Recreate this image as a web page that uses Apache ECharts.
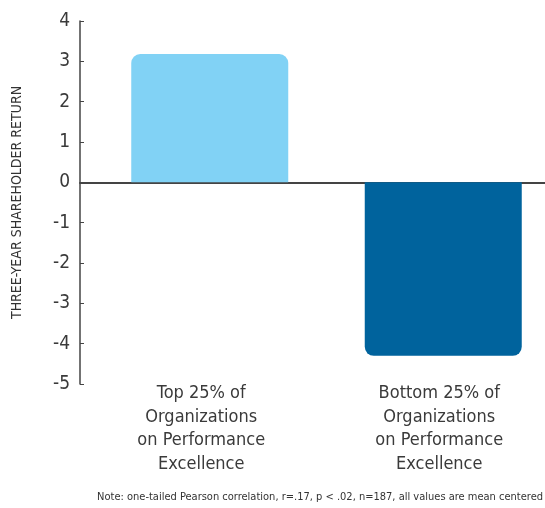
<!DOCTYPE html>
<html>
<head>
<meta charset="utf-8">
<script src="https://cdn.jsdelivr.net/npm/echarts@6/dist/echarts.min.js"></script>
<style>
html,body{margin:0;padding:0;background:#fff;overflow:hidden;}
#chart{width:560px;height:508px;}
</style>
</head>
<body>
<div id="chart"></div>
<script>
const categories = [
  "Top 25% of\nOrganizations\non Performance\nExcellence",
  "Bottom 25% of\nOrganizations\non Performance\nExcellence"
];
const values = [3.18, -4.3];
const barColors = ["#81D2F5", "#00639D"];
const yTitle = "THREE-YEAR SHAREHOLDER RETURN";
const note = "Note: one-tailed Pearson correlation, r=.17, p < .02, n=187, all values are mean centered";
const yMin = -5, yMax = 4, yStep = 1;

const FONT = "'DejaVu Sans', sans-serif";
const STRETCH = 'condensed';
const labelShift = [17, 8];
const chart = echarts.init(document.getElementById('chart'), null, {renderer: 'canvas'});

const gridTop = 21, gridBottom = 124;
chart.setOption({
  animation: false,
  backgroundColor: '#ffffff',
  title: {
    text: note,
    right: 17, bottom: 5, padding: 0,
    textStyle: {fontFamily: FONT, fontStyle: STRETCH, fontSize: 11, fontWeight: 'normal', color: '#333'}
  },
  grid: [
    {left: 93, right: 0, top: gridTop, bottom: gridBottom, containLabel: false},
    {left: 80, right: 15, top: gridTop, bottom: gridBottom, containLabel: false}
  ],
  xAxis: [
    {
      type: 'category', gridIndex: 0,
      data: categories.map((c, i) => ({value: c, textStyle: {padding: [0, labelShift[i], 0, 0]}})),
      axisLine: {show: false}, axisTick: {show: false},
      axisLabel: {
        margin: -2, interval: 0,
        fontFamily: FONT, fontStyle: STRETCH, fontSize: 18, lineHeight: 23.5, color: '#3a3a3a', align: 'center'
      }
    },
    {
      type: 'value', gridIndex: 1, min: 0, max: 1,
      axisLine: {show: true, onZero: true, lineStyle: {color: '#444', width: 2}},
      axisTick: {show: false}, axisLabel: {show: false}, splitLine: {show: false}
    }
  ],
  yAxis: [
    {
      type: 'value', gridIndex: 0, min: yMin, max: yMax, interval: yStep,
      offset: 13,
      name: yTitle, nameLocation: 'middle', nameGap: 56, nameRotate: 90,
      nameTextStyle: {fontFamily: FONT, fontStyle: STRETCH, fontSize: 14, color: '#333'},
      axisLine: {show: true, lineStyle: {color: '#444', width: 1.5}},
      axisTick: {show: true, inside: true, length: 4, lineStyle: {color: '#444'}},
      axisLabel: {margin: 10, fontFamily: FONT, fontStyle: STRETCH, fontSize: 19, color: '#3a3a3a'},
      splitLine: {show: false}
    },
    {
      type: 'value', gridIndex: 1, min: yMin, max: yMax, show: false
    }
  ],
  series: [
    {
      type: 'bar', xAxisIndex: 0, yAxisIndex: 0,
      barWidth: 157,
      data: values.map((v, i) => ({
        value: v,
        itemStyle: {color: barColors[i], borderRadius: v >= 0 ? [9, 9, 0, 0] : [0, 0, 9, 9]}
      }))
    }
  ]
});
</script>
</body>
</html>
